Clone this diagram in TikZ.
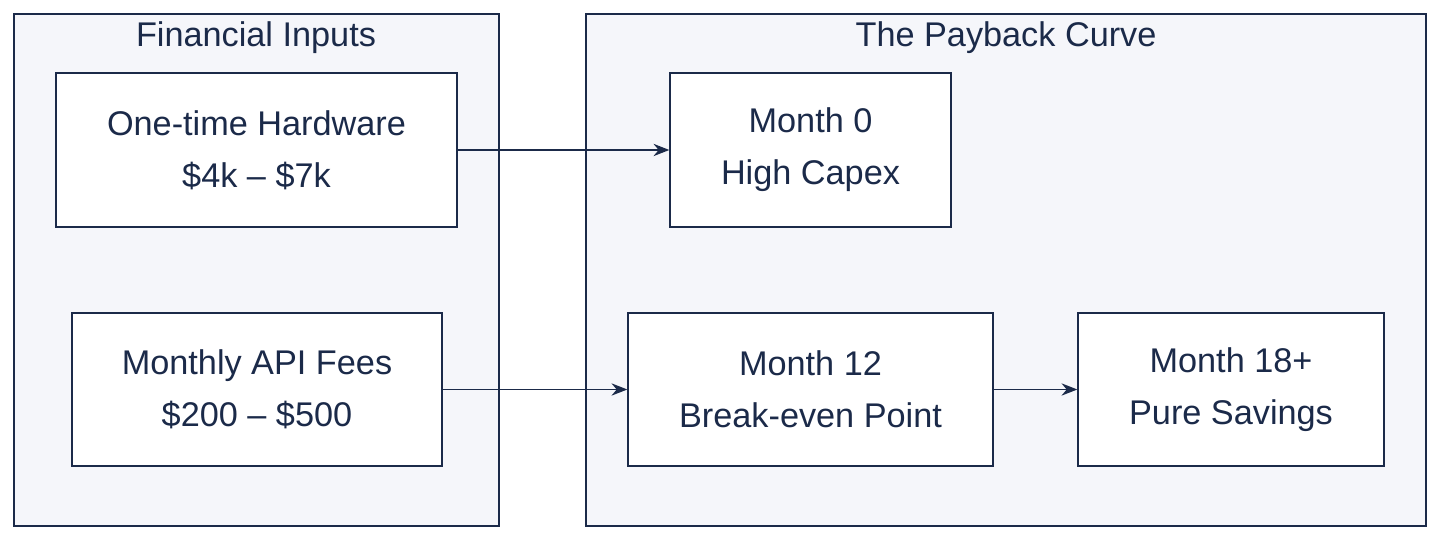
\documentclass[tikz,border=0pt]{standalone}
\usepackage{fontspec}
\setmainfont{Liberation Sans}
\usetikzlibrary{arrows.meta}
\definecolor{navy}{HTML}{1B2A49}
\definecolor{panel}{HTML}{F5F6FA}
\tikzstyle{cluster} = [rectangle, draw=navy, fill=panel, line width=0.8pt]
\tikzstyle{process} = [rectangle, draw=navy, fill=white, line width=0.8pt, align=center, text=navy, font=\fontsize{19.5}{29.6}\selectfont]
\tikzstyle{title} = [text=navy, font=\fontsize{19.5}{24}\selectfont]
\tikzstyle{arrow} = [line width=0.8pt, draw=navy, -{Stealth[length=9pt,width=7pt]}]

\begin{document}
\begin{tikzpicture}[x=0.02cm, y=-0.02cm]
\useasboundingbox (0,0) rectangle (1456,546);

% Clusters
\draw [cluster] (14,14) rectangle (499,526);
\draw [cluster] (586,14) rectangle (1426,526);
\node (inputs) [title] at (256,38) {Financial Inputs};
\node (curve) [title] at (1006,38) {The Payback Curve};

% Nodes
\node (hardware) [process, minimum width=8.02cm, minimum height=3.08cm] at (256.5,150) {One-time Hardware\\\$4k – \$7k};
\node (api) [process, minimum width=7.4cm, minimum height=3.06cm] at (257,389.5) {Monthly API Fees\\\$200 – \$500};
\node (month0) [process, minimum width=5.62cm, minimum height=3.08cm] at (810.5,150) {Month 0\\High Capex};
\node (month12) [process, minimum width=7.3cm, minimum height=3.06cm] at (810.5,389.5) {Month 12\\Break-even Point};
\node (month18) [process, minimum width=6.12cm, minimum height=3.06cm] at (1231,389.5) {Month 18+\\Pure Savings};

% Arrows
\draw [arrow] (hardware) -- (month0);
\draw [arrow] (api) -- (month12);
\draw [arrow] (month12) -- (month18);

\end{tikzpicture}
\end{document}
